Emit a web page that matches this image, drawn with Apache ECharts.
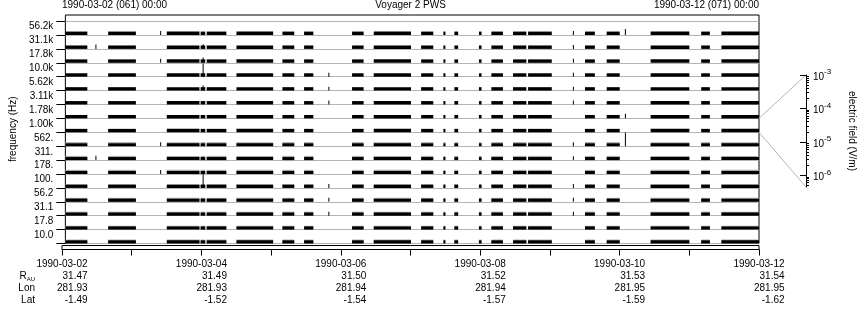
<!DOCTYPE html>
<html><head><meta charset="utf-8">
<script src="https://cdn.jsdelivr.net/npm/echarts@6/dist/echarts.min.js"></script>
<style>html,body{margin:0;padding:0;background:#fff}#c{width:860px;height:320px}</style>
</head><body><div id="c"></div>
<script>
// ---------- data ----------
const channelLabels = ['10.0','17.8','31.1','56.2','100.','178.','311.','562.','1.00k','1.78k','3.11k','5.62k','10.0k','17.8k','31.1k','56.2k'];
// intervals with data, hours since 1990-03-02 00:00
const dataIntervals = [[0,7.6],[14.8,24.4],[35.1,46.4],[46.8,48.4],[48.9,55.7],[59.2,71.9],[75.1,79.2],[82.6,85.8],[99.2,103.2],[106.7,119.6],[123.1,127.3],[130.8,131.5],[134.6,135.9],[143.1,144.0],[147.4,151.4],[154.9,159.5],[160.1,168.3],[179.8,183.2],[187.3,191.8],[202.5,215.9],[220.0,223.0],[227.0,240]];
// typical (black) and peak (grey) electric field per channel, V/m
const channelLevels = [2.6e-6,2.6e-6,2.6e-6,2.6e-6,2.6e-6,2.4e-6,2.4e-6,2.2e-6,3.0e-6,3.0e-6,3.0e-6,3.0e-6,3.0e-6,3.0e-6,3.0e-6,3.0e-6];
const channelPeaks  = [4.0e-6,3.8e-6,4.2e-6,4.0e-6,3.6e-6,4.5e-6,4.5e-6,4.2e-6,3.0e-6,3.0e-6,3.0e-6,3.0e-6,3.0e-6,3.0e-6,3.0e-6,3.0e-6];
// isolated measurements: [hour, channel index, field V/m]
const spikes = [
  [10.4,14,5e-6],[10.4,6,5e-6],
  [32.8,15,4e-6],[32.8,13,4e-6],[32.8,7,4e-6],[32.8,5,4e-6],
  [47.5,12,6e-4],[47.5,4,9e-4],[47.5,13,8e-6],[47.5,11,8e-6],[47.5,14,6e-6],
  [91.0,12,4e-6],[91.0,11,4e-6],[91.0,10,4e-6],[91.0,4,4e-6],[91.0,3,4e-6],[91.0,2,4e-6],
  [175.6,15,4e-6],[175.6,14,4e-6],[175.6,13,4e-6],[175.6,12,4e-6],[175.6,11,4e-6],[175.6,10,4e-6],
  [175.6,7,4e-6],[175.6,6,4e-6],[175.6,4,4e-6],[175.6,3,4e-6],[175.6,2,4e-6],
  [193.6,15,1.2e-5],[193.6,7,9e-4],[193.6,9,6e-6]
];
const dateLabels = ['1990-03-02','1990-03-04','1990-03-06','1990-03-08','1990-03-10','1990-03-12'];
const rAU = ['31.47','31.49','31.50','31.52','31.53','31.54'];
const lonVals = ['281.93','281.93','281.94','281.94','281.95','281.95'];
const latVals = ['-1.49','-1.52','-1.54','-1.57','-1.59','-1.62'];
const fieldDecades = [-6,-5,-4,-3];
const fanChannel = 8;

// ---------- scale settings ----------
const logMin = -6.35, logMax = -3;
const xMax = 240;
const FONT = 'Liberation Sans, Arial, Helvetica, sans-serif';

const nRows = channelLabels.length;
const blackData = [], greyData = [];
for (let r = 0; r < nRows; r++) {
  for (const iv of dataIntervals) {
    blackData.push([iv[0], iv[1], r, channelLevels[r]]);
    if (channelPeaks[r] > channelLevels[r]) greyData.push([iv[0], iv[1], r, channelPeaks[r]]);
  }
}
const spikeData = spikes.map(s => [s[0], s[0], s[1], s[2]]);

function makeRender(color) {
  return function (params, api) {
    const x0 = api.value(0), x1 = api.value(1), row = api.value(2), e = api.value(3);
    const frac = (Math.log10(e) - logMin) / (logMax - logMin);
    const p0 = api.coord([x0, row]);
    const p1 = api.coord([x1, row + Math.max(0, Math.min(1, frac))]);
    const w = Math.max(p1[0] - p0[0], 1);
    return { type: 'rect', shape: { x: p0[0], y: p1[1], width: w, height: p0[1] - p1[1] },
             style: { fill: color } };
  };
}

const minorVals = [];
for (let d = -7; d < -3; d++) for (let k = 2; k <= 9; k++) {
  const v = d + Math.log10(k);
  if (v >= logMin && v <= logMax) minorVals.push(v);
}
const rowTicks = []; for (let i = 0; i <= nRows; i++) rowTicks.push(i);
const rowLabelPos = channelLabels.map((_, i) => i + 0.6);

const chart = echarts.init(document.getElementById('c'), null, { renderer: 'canvas' });
const option = {
  animation: false,
  textStyle: { fontFamily: FONT },
  grid: [
    { left: 62, right: 101, top: 15, bottom: 76.5, show: true, borderColor: '#000', borderWidth: 1, backgroundColor: 'transparent' },
    { left: 806, width: 3, top: 75, height: 112 },
    { left: 62, right: 101, top: 245.5, height: 4, show: true, borderColor: '#000', borderWidth: 1 }
  ],
  xAxis: [
    { gridIndex: 0, type: 'value', min: 0, max: xMax, show: false },
    { gridIndex: 1, type: 'value', min: 0, max: 1, show: false },
    { gridIndex: 2, type: 'value', min: 0, max: xMax, interval: 24, position: 'bottom',
      axisLine: { show: true, lineStyle: { color: '#000', width: 1 } },
      axisTick: { show: true, length: 6, lineStyle: { color: '#000' } },
      splitLine: { show: false },
      axisLabel: { margin: 9, color: '#000', fontSize: 10, fontFamily: FONT, lineHeight: 12,
        formatter: function (v) {
          if (v % 48 !== 0) return '';
          const i = v / 48;
          return '{d|' + dateLabels[i] + '}\n{v|' + rAU[i] + '}\n{v|' + lonVals[i] + '}\n{v|' + latVals[i] + '}';
        },
        rich: { d: { align: 'right', fontSize: 10, lineHeight: 12, fontFamily: FONT, color: '#000' },
                v: { align: 'right', fontSize: 10, lineHeight: 12, fontFamily: FONT, color: '#000' } } } }
  ],
  yAxis: [
    { gridIndex: 0, type: 'value', min: 0, max: nRows + 6.1 / 13.9, interval: 1,
      name: 'frequency (Hz)', nameLocation: 'middle', nameRotate: 90, nameGap: 44,
      nameTextStyle: { fontSize: 10, color: '#000', fontFamily: FONT },
      axisLine: { show: false },
      axisTick: { show: true, length: 9, customValues: rowTicks, lineStyle: { color: '#000' } },
      splitLine: { show: true, lineStyle: { color: '#b4b4b4', width: 1 } },
      axisLabel: { margin: 12, color: '#000', fontSize: 10, fontFamily: FONT, customValues: rowLabelPos,
        formatter: function (v) { return channelLabels[Math.floor(v)] || ''; } } },
    { gridIndex: 1, type: 'value', min: logMin, max: logMax, position: 'right',
      name: 'electric field (V/m)', nameLocation: 'middle', nameRotate: -90, nameGap: 38,
      nameTextStyle: { fontSize: 10, color: '#000', fontFamily: FONT },
      axisLine: { show: true, lineStyle: { color: '#000' } },
      axisTick: { show: true, inside: true, length: 6, customValues: fieldDecades, lineStyle: { color: '#000' } },
      splitLine: { show: false },
      axisLabel: { margin: 4, color: '#000', customValues: fieldDecades,
        formatter: function (v) { return '{b|10}{s|' + Math.round(v) + '}'; },
        rich: { b: { fontSize: 10, fontFamily: FONT, color: '#000', lineHeight: 14, verticalAlign: 'bottom' },
                s: { fontSize: 8, fontFamily: FONT, color: '#000', lineHeight: 14, verticalAlign: 'top' } } } },
    { gridIndex: 1, type: 'value', min: logMin, max: logMax, position: 'right',
      axisLine: { show: false },
      axisTick: { show: true, inside: true, length: 3, customValues: minorVals, lineStyle: { color: '#000' } },
      splitLine: { show: false }, axisLabel: { show: false } },
    { gridIndex: 2, type: 'value', min: 0, max: 1, show: false }
  ],
  series: [
    { type: 'custom', xAxisIndex: 0, yAxisIndex: 0, renderItem: makeRender('#a8a8a8'), data: greyData,
      encode: { x: [0, 1], y: 2 }, silent: true },
    { type: 'custom', xAxisIndex: 0, yAxisIndex: 0, renderItem: makeRender('#000'), data: blackData,
      encode: { x: [0, 1], y: 2 }, silent: true },
    { type: 'custom', xAxisIndex: 0, yAxisIndex: 0, renderItem: makeRender('#000'), data: spikeData,
      encode: { x: [0, 1], y: 2 }, silent: true }
  ],
  graphic: [
    { id: 't1', type: 'text', left: 62, top: 0, style: { text: '1990-03-02 (061) 00:00', font: '10px ' + FONT, fill: '#000' } },
    { id: 't2', type: 'text', x: 410.5, y: 0, style: { text: 'Voyager 2 PWS', font: '10px ' + FONT, fill: '#000', align: 'center', verticalAlign: 'top' } },
    { id: 't3', type: 'text', x: 759, y: 0, style: { text: '1990-03-12 (071) 00:00', font: '10px ' + FONT, fill: '#000', align: 'right', verticalAlign: 'top' } },
    { id: 'r1', type: 'text', x: 35, y: 276.5, style: { text: '{r|R}{s|AU}', align: 'right', verticalAlign: 'middle',
        rich: { r: { fontSize: 10, fontFamily: FONT, fill: '#000' }, s: { fontSize: 6, fontFamily: FONT, fill: '#000', padding: [6, 0, 0, 0] } } } },
    { id: 'r2', type: 'text', x: 35, y: 288.5, style: { text: 'Lon', font: '10px ' + FONT, fill: '#000', align: 'right', verticalAlign: 'middle' } },
    { id: 'r3', type: 'text', x: 35, y: 300.5, style: { text: 'Lat', font: '10px ' + FONT, fill: '#000', align: 'right', verticalAlign: 'middle' } }
  ]
};
chart.setOption(option);

const pTop = chart.convertToPixel({ xAxisIndex: 0, yAxisIndex: 0 }, [xMax, fanChannel + 1]);
const pBot = chart.convertToPixel({ xAxisIndex: 0, yAxisIndex: 0 }, [xMax, fanChannel]);
const cTop = chart.convertToPixel({ xAxisIndex: 1, yAxisIndex: 1 }, [0, logMax]);
const cBot = chart.convertToPixel({ xAxisIndex: 1, yAxisIndex: 1 }, [0, logMin]);
chart.setOption({ graphic: [
  { id: 'f1', type: 'line', shape: { x1: pTop[0], y1: pTop[1], x2: cTop[0], y2: cTop[1] }, style: { stroke: '#b4b4b4', lineWidth: 1 } },
  { id: 'f2', type: 'line', shape: { x1: pBot[0], y1: pBot[1], x2: cBot[0], y2: cBot[1] }, style: { stroke: '#b4b4b4', lineWidth: 1 } }
] });
</script></body></html>
